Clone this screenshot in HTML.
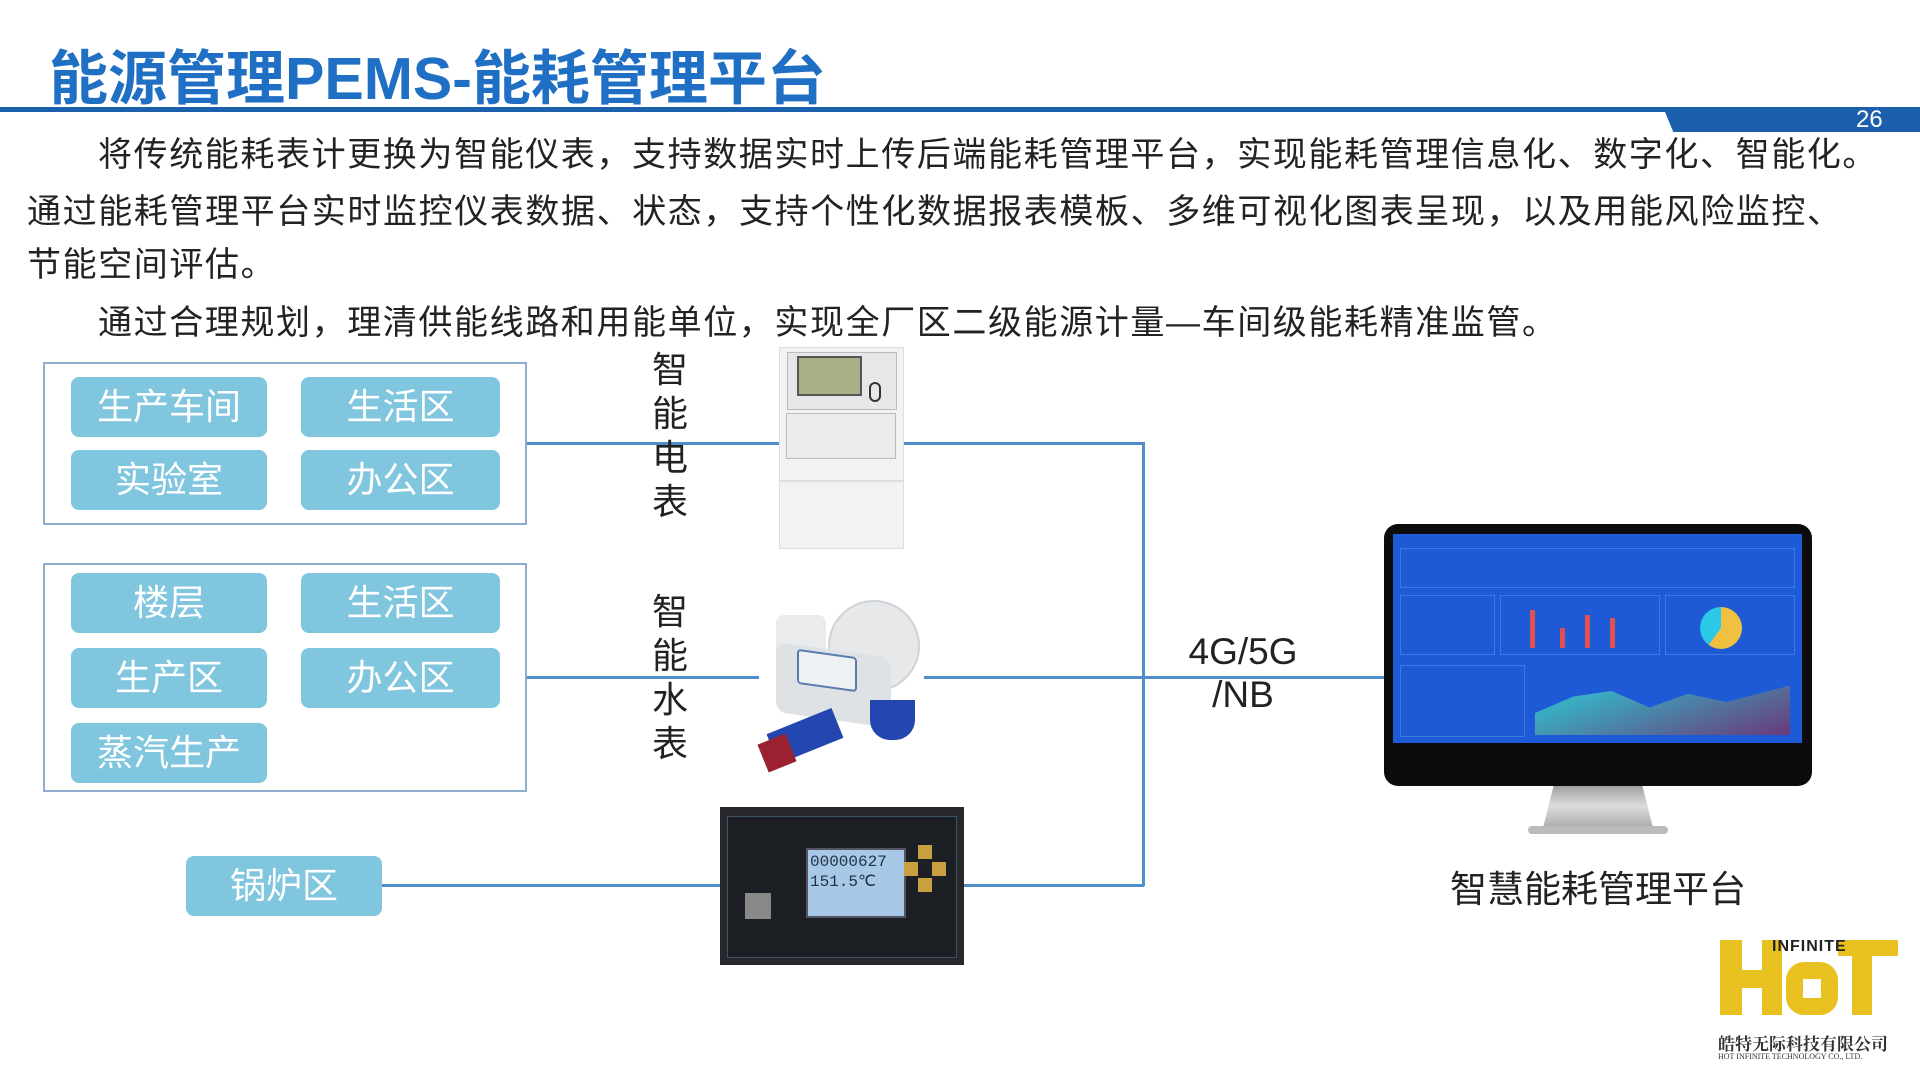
<!DOCTYPE html>
<html><head><meta charset="utf-8"><style>
*{margin:0;padding:0;box-sizing:border-box}
body{width:1920px;height:1080px;background:#fff;position:relative;overflow:hidden;font-family:"Liberation Sans","Noto Sans CJK SC",sans-serif}
.a{position:absolute}
.t{font-size:34px;color:#222;letter-spacing:1.6px;white-space:nowrap;line-height:40px}
.btn{position:absolute;background:#80c6de;color:#fff;font-size:36px;text-align:center;border-radius:8px;line-height:60px;height:60px}
.box{position:absolute;border:2.5px solid #8eaed0}
.ln{position:absolute;background:#4f8ecb}
.v{position:absolute;font-size:36px;color:#222;width:40px;text-align:center;line-height:44px}
</style></head><body>
<div class="a" style="left:49px;top:31px;font-size:59px;font-weight:bold;color:#1f6fc4;letter-spacing:0px;white-space:nowrap">能源管理PEMS-能耗管理平台</div>
<div class="a" style="left:0;top:107px;width:1920px;height:5px;background:#1b5fad"></div>
<div class="a" style="left:1663px;top:107px;width:257px;height:25px;background:#1b5fad;clip-path:polygon(0 0,100% 0,100% 100%,4% 100%)"></div>
<div class="a" style="left:1856px;top:106px;font-size:24px;color:#fff">26</div>
<div class="a t" style="left:98px;top:135px">将传统能耗表计更换为智能仪表，支持数据实时上传后端能耗管理平台，实现能耗管理信息化、数字化、智能化。</div>
<div class="a t" style="left:27px;top:192px">通过能耗管理平台实时监控仪表数据、状态，支持个性化数据报表模板、多维可视化图表呈现，以及用能风险监控、</div>
<div class="a t" style="left:27px;top:245px">节能空间评估。</div>
<div class="a t" style="left:98px;top:303px">通过合理规划，理清供能线路和用能单位，实现全厂区二级能源计量—车间级能耗精准监管。</div>

<div class="box" style="left:43px;top:362px;width:484px;height:163px"></div>
<div class="btn" style="left:71px;top:377px;width:196px">生产车间</div>
<div class="btn" style="left:301px;top:377px;width:199px">生活区</div>
<div class="btn" style="left:71px;top:450px;width:196px">实验室</div>
<div class="btn" style="left:301px;top:450px;width:199px">办公区</div>

<div class="box" style="left:43px;top:563px;width:484px;height:229px"></div>
<div class="btn" style="left:71px;top:573px;width:196px">楼层</div>
<div class="btn" style="left:301px;top:573px;width:199px">生活区</div>
<div class="btn" style="left:71px;top:648px;width:196px">生产区</div>
<div class="btn" style="left:301px;top:648px;width:199px">办公区</div>
<div class="btn" style="left:71px;top:723px;width:196px">蒸汽生产</div>
<div class="btn" style="left:186px;top:856px;width:196px">锅炉区</div>

<div class="ln" style="left:527px;top:442px;width:252px;height:3px"></div>
<div class="ln" style="left:904px;top:442px;width:241px;height:3px"></div>
<div class="ln" style="left:1142px;top:442px;width:3px;height:444px"></div>
<div class="ln" style="left:527px;top:676px;width:232px;height:3px"></div>
<div class="ln" style="left:924px;top:676px;width:460px;height:3px"></div>
<div class="ln" style="left:382px;top:884px;width:338px;height:3px"></div>
<div class="ln" style="left:964px;top:884px;width:180px;height:3px"></div>

<div class="v" style="left:650px;top:348px">智<br>能<br>电<br>表</div>
<div class="v" style="left:650px;top:590px">智<br>能<br>水<br>表</div>

<!-- electric meter -->
<div class="a" style="left:779px;top:347px;width:125px;height:202px;background:#f1f2f3;border:1px solid #ddd"></div>
<div class="a" style="left:787px;top:352px;width:110px;height:58px;background:#e6e7e8;border:1px solid #bbb"></div>
<div class="a" style="left:797px;top:356px;width:65px;height:40px;background:#a9ae86;border:2px solid #555"></div>
<div class="a" style="left:869px;top:382px;width:12px;height:20px;border:2px solid #333;border-radius:6px"></div>
<div class="a" style="left:786px;top:413px;width:110px;height:46px;border:1px solid #bbb;background:#ebecec"></div>
<div class="a" style="left:779px;top:480px;width:125px;height:2px;background:#ddd"></div>
<!-- water meter -->
<div class="a" style="left:828px;top:600px;width:92px;height:92px;border-radius:50%;background:#e6e8ea;border:2px solid #cfd2d6"></div>
<div class="a" style="left:776px;top:615px;width:50px;height:55px;background:#e9ebed;border-radius:8px"></div>
<div class="a" style="left:776px;top:650px;width:115px;height:70px;background:#dfe2e5;border-radius:10px;transform:skewY(8deg)"></div>
<div class="a" style="left:797px;top:653px;width:60px;height:35px;background:#eef1f4;border:2px solid #5a7ab0;border-radius:4px;transform:skewY(8deg)"></div>
<div class="a" style="left:770px;top:720px;width:70px;height:32px;background:#2346b0;transform:rotate(-22deg)"></div>
<div class="a" style="left:762px;top:738px;width:30px;height:30px;background:#9b2030;transform:rotate(-22deg)"></div>
<div class="a" style="left:870px;top:700px;width:45px;height:40px;background:#2346b0;border-radius:0 0 20px 20px"></div>
<!-- boiler device -->
<div class="a" style="left:720px;top:807px;width:244px;height:158px;background:#26282c"></div>
<div class="a" style="left:727px;top:816px;width:230px;height:142px;background:#1c2024;border:1px solid #3b5566"></div>
<div class="a" style="left:806px;top:848px;width:100px;height:70px;background:#a8c8e8;border:2px solid #556"></div>
<div class="a" style="left:810px;top:852px;font-size:16px;color:#234;font-family:'Liberation Mono',monospace;line-height:20px">00000627<br>151.5℃</div>
<div class="a" style="left:918px;top:845px;width:14px;height:14px;background:#c8a040"></div>
<div class="a" style="left:904px;top:862px;width:14px;height:14px;background:#c8a040"></div>
<div class="a" style="left:932px;top:862px;width:14px;height:14px;background:#c8a040"></div>
<div class="a" style="left:918px;top:878px;width:14px;height:14px;background:#c8a040"></div>
<div class="a" style="left:745px;top:893px;width:26px;height:26px;background:#888"></div>

<div class="a" style="left:1183px;top:630px;width:120px;text-align:center;font-size:37px;color:#222;line-height:43px">4G/5G<br>/NB</div>

<!-- monitor -->
<div class="a" style="left:1543px;top:784px;width:110px;height:44px;background:linear-gradient(#999,#ddd,#aaa);clip-path:polygon(10% 0,90% 0,100% 100%,0 100%)"></div>
<div class="a" style="left:1528px;top:826px;width:140px;height:8px;background:#bbb;border-radius:4px"></div>
<div class="a" style="left:1384px;top:524px;width:428px;height:262px;background:#0c0c0e;border-radius:14px"></div>
<div class="a" style="left:1393px;top:534px;width:409px;height:209px;background:#1e5ad6"></div>
<div class="a" style="left:1400px;top:548px;width:395px;height:40px;border:1px solid #3d78e4"></div>
<div class="a" style="left:1400px;top:595px;width:95px;height:60px;border:1px solid #3d78e4"></div>
<div class="a" style="left:1500px;top:595px;width:160px;height:60px;border:1px solid #3d78e4"></div>
<div class="a" style="left:1665px;top:595px;width:130px;height:60px;border:1px solid #3d78e4"></div>
<div class="a" style="left:1700px;top:607px;width:42px;height:42px;border-radius:50%;background:conic-gradient(#f0c040 0 60%,#2cc8e8 60% 100%)"></div>
<div class="a" style="left:1530px;top:610px;width:5px;height:38px;background:#e05050"></div>
<div class="a" style="left:1560px;top:628px;width:5px;height:20px;background:#e05050"></div>
<div class="a" style="left:1585px;top:615px;width:5px;height:33px;background:#e05050"></div>
<div class="a" style="left:1610px;top:618px;width:5px;height:30px;background:#e05050"></div>
<div class="a" style="left:1535px;top:680px;width:255px;height:55px;background:linear-gradient(160deg,#2ad0d8,#6a3a7a);clip-path:polygon(0 60%,15% 30%,30% 20%,45% 50%,60% 25%,75% 40%,100% 10%,100% 100%,0 100%)"></div>
<div class="a" style="left:1400px;top:665px;width:125px;height:72px;border:1px solid #3d78e4"></div>

<div class="a" style="left:1450px;top:859px;width:296px;text-align:center;font-size:37px;color:#222">智慧能耗管理平台</div>

<!-- logo -->
<div class="a" style="left:1720px;top:940px;width:178px;height:75px">
 <div class="a" style="left:0;top:0;width:22px;height:75px;background:#e8c020"></div>
 <div class="a" style="left:0;top:30px;width:60px;height:18px;background:#e8c020"></div>
 <div class="a" style="left:42px;top:0;width:20px;height:75px;background:#e8c020"></div>
 <div class="a" style="left:66px;top:22px;width:52px;height:53px;border:17px solid #e8c020;border-radius:18px"></div>
 <div class="a" style="left:118px;top:0;width:60px;height:16px;background:#e8c020"></div>
 <div class="a" style="left:132px;top:0;width:20px;height:75px;background:#e8c020"></div>
 <div class="a" style="left:52px;top:-2px;font-size:16px;font-weight:bold;color:#222;letter-spacing:1px">INFINITE</div>
</div>
<div class="a" style="left:1718px;top:1030px;font-size:17px;font-weight:bold;color:#333;font-family:'Liberation Serif','Noto Serif CJK SC',serif">皓特无际科技有限公司</div>
<div class="a" style="left:1718px;top:1052px;font-size:8px;color:#333;font-family:'Liberation Serif',serif;white-space:nowrap">HOT INFINITE TECHNOLOGY CO., LTD.</div>
</body></html>
